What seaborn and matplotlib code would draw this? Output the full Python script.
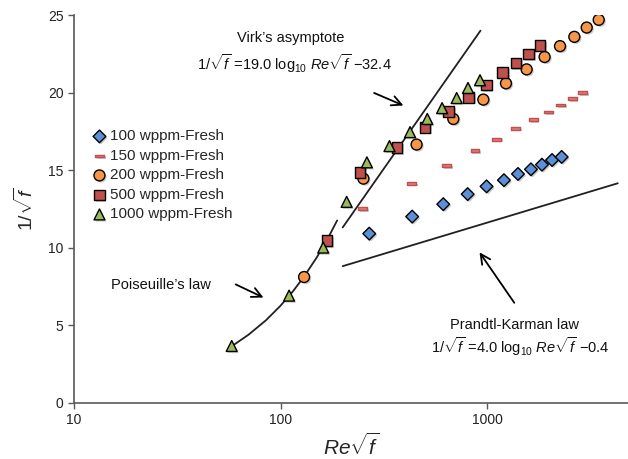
import numpy as np
import pandas as pd
import matplotlib
matplotlib.use('Agg')
import matplotlib.pyplot as plt
import matplotlib.patheffects as pe
from matplotlib.path import Path
import seaborn as sns

# data
re_1000 = [58, 110, 161, 209, 262, 337, 424, 514, 606, 713, 809, 925]
f_1000 = [3.65, 6.9, 10.0, 12.95, 15.5, 16.55, 17.45, 18.3, 19.0, 19.65, 20.3, 20.8]
re_500 = [168, 243, 366, 502, 652, 815, 995, 1191, 1380, 1592, 1807]
f_500 = [10.45, 14.85, 16.45, 17.75, 18.8, 19.7, 20.5, 21.3, 21.9, 22.5, 23.05]
re_200 = [130, 252, 456, 687, 960, 1236, 1556, 1901, 2258, 2649, 3041, 3477]
f_200 = [8.1, 14.45, 16.65, 18.3, 19.55, 20.6, 21.5, 22.3, 23.0, 23.6, 24.2, 24.7]
re_150 = [250, 432, 638, 875, 1114, 1380, 1675, 1981, 2280, 2588, 2904]
f_150 = [12.5, 14.15, 15.3, 16.25, 17.0, 17.7, 18.25, 18.75, 19.2, 19.6, 20.0]
re_100 = [269, 434, 614, 806, 995, 1208, 1413, 1633, 1846, 2066, 2300]
f_100 = [10.9, 12.0, 12.8, 13.45, 13.95, 14.35, 14.75, 15.05, 15.35, 15.65, 15.85]

# reference lines
pois_x = [58, 70, 85, 100, 115, 130, 150, 170, 188]
pois_y = [3.63, 4.38, 5.31, 6.25, 7.19, 8.13, 9.38, 10.63, 11.75]
virk_x = [200, 930]
virk_y = [11.3, 24.0]
pk_x = [200, 4300]
pk_y = [8.8, 14.15]

sns.set_style('ticks')
plt.rcParams['font.family'] = ['Liberation Sans', 'DejaVu Sans']
plt.rcParams['mathtext.fontset'] = 'custom'
plt.rcParams['mathtext.rm'] = 'Liberation Sans'
plt.rcParams['mathtext.it'] = 'Liberation Sans:italic'

dash = Path([(-1, -0.32), (1, -0.32), (1, 0.32), (-1, 0.32), (-1, -0.32)],
            [Path.MOVETO, Path.LINETO, Path.LINETO, Path.LINETO, Path.CLOSEPOLY])

series = [
    ('100 wppm-Fresh', re_100, f_100, 'D', '#5b8fd6', 'black', 42),
    ('150 wppm-Fresh', re_150, f_150, dash, '#e07c7a', '#c0504d', 40),
    ('200 wppm-Fresh', re_200, f_200, 'o', '#f79646', 'black', 62),
    ('500 wppm-Fresh', re_500, f_500, 's', '#c0504d', 'black', 58),
    ('1000 wppm-Fresh', re_1000, f_1000, '^', '#9bbb59', 'black', 62),
]

fig = plt.figure(figsize=(6.28, 4.59), dpi=100)
ax = fig.add_axes([0.118, 0.123, 0.882, 0.844])

line_kw = dict(color='#231f20', lw=1.3, zorder=2)
ax.plot(pois_x, pois_y, **line_kw)
ax.plot(virk_x, virk_y, **line_kw)
ax.plot(pk_x, pk_y, **line_kw)

shadow = [pe.SimplePatchShadow(offset=(1.2, -1.2), alpha=0.25), pe.Normal()]
for name, xs, ys, mk, fc, ec, size in series:
    df = pd.DataFrame({'x': xs, 'y': ys})
    sns.scatterplot(data=df, x='x', y='y', marker=mk, color=fc, edgecolor=ec,
                    linewidth=1.0, s=size, label=name, ax=ax, zorder=3)
for coll in ax.collections:
    coll.set_path_effects(shadow)

ax.set_xscale('log')
ax.set_xlim(10, 4820)
ax.set_ylim(0, 25)
ax.set_xticks([10, 100, 1000])
ax.set_xticklabels(['10', '100', '1000'])
ax.xaxis.set_minor_locator(matplotlib.ticker.NullLocator())
ax.set_yticks([0, 5, 10, 15, 20, 25])
ax.tick_params(direction='out', length=4, width=1, color='#595959',
               labelsize=10, labelcolor='#222222')
for s in ['top', 'right']:
    ax.spines[s].set_visible(False)
for s in ['left', 'bottom']:
    ax.spines[s].set_color('#595959')
    ax.spines[s].set_linewidth(1.2)

ax.set_xlabel(r'$Re\sqrt{f}$', fontsize=15, labelpad=4)
ax.set_ylabel(r'$1/\sqrt{f}$', fontsize=14, labelpad=8)

ax.legend(loc='upper left', bbox_to_anchor=(0.032, 0.705), frameon=False,
          fontsize=11, handletextpad=0.2, handlelength=1.0,
          labelspacing=0.36, borderpad=0, borderaxespad=0)

# annotations
txt = dict(fontsize=10.5, color='#111111')
ax.text(112, 23.5, "Virk\u2019s asymptote", ha='center', va='center', **txt)
ax.text(117, 21.9, r'1/$\sqrt{f}$ =19.0 log$_{10}$ $Re\sqrt{f}$ ' + '\u221232.4',
        ha='center', va='center', **txt)
ax.text(46, 7.58, "Poiseuille\u2019s law", ha='right', va='center', **txt)
ax.text(1352, 5.0, 'Prandtl-Karman law', ha='center', va='center', **txt)
ax.text(1445, 3.6, r'1/$\sqrt{f}$ =4.0 log$_{10}$ $Re\sqrt{f}$ ' + '\u22120.4',
        ha='center', va='center', **txt)

arrow = dict(arrowstyle='->,head_length=0.7,head_width=0.35', color='black', lw=1.3)
ax.annotate('', xy=(405, 19.1), xytext=(276, 20.05), arrowprops=arrow)
ax.annotate('', xy=(85, 6.7), xytext=(59, 7.7), arrowprops=arrow)
ax.annotate('', xy=(904, 9.84), xytext=(1380, 6.29), arrowprops=arrow)

fig.savefig('out.png', dpi=100)
